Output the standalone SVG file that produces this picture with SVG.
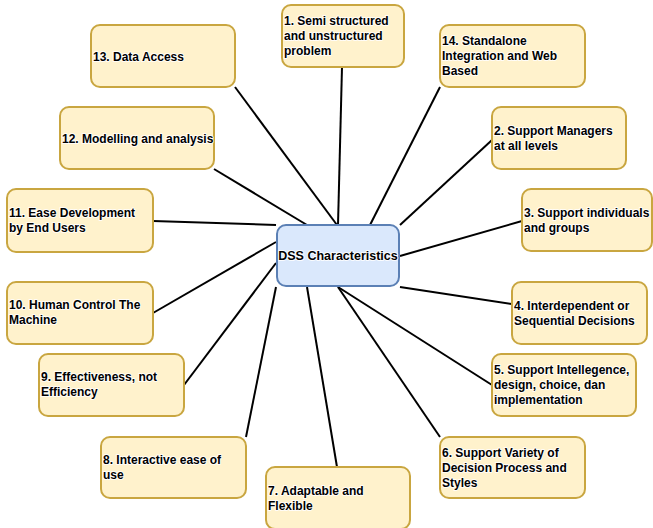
<svg xmlns="http://www.w3.org/2000/svg" width="653" height="528" viewBox="0 0 653 528">
<style>
.n{fill:#fff2cc;stroke:#c9a640;stroke-width:2}
.c{fill:#dae8fc;stroke:#5b80b5;stroke-width:2}
text{font-family:"Liberation Sans",Arial,sans-serif;font-weight:bold;font-size:12px;fill:#000;stroke:#fff;stroke-width:2;stroke-linejoin:round;paint-order:stroke;stroke-opacity:0.85}
.t{font-size:12.5px}
.e line{stroke:#000;stroke-width:2}
</style>
<rect width="653" height="528" fill="#fff"/>
<g class="e" id="connectors">
<line x1="235" y1="87" x2="337" y2="225"/>
<line x1="342" y1="67" x2="338" y2="225"/>
<line x1="440" y1="87" x2="370" y2="225"/>
<line x1="492" y1="140" x2="400" y2="225"/>
<line x1="522" y1="221" x2="400" y2="256"/>
<line x1="512" y1="304" x2="400" y2="287"/>
<line x1="492" y1="385" x2="338" y2="287"/>
<line x1="440" y1="437" x2="338" y2="287"/>
<line x1="337" y1="467" x2="307" y2="287"/>
<line x1="246" y1="437" x2="276" y2="287"/>
<line x1="184" y1="385" x2="276" y2="263"/>
<line x1="153" y1="313" x2="276" y2="242"/>
<line x1="153" y1="221" x2="276" y2="225"/>
<line x1="214" y1="169" x2="307" y2="225"/>
</g>
<g id="center"><rect class="c" x="277" y="225" width="122" height="61" rx="9"/><text class="t" x="338" y="260" text-anchor="middle">DSS Characteristics</text></g>
<g id="n1"><rect class="n" x="282" y="5" width="122" height="62" rx="9"/><text x="284" y="25">1. Semi structured</text><text x="284" y="40">and unstructured</text><text x="284" y="55">problem</text></g>
<g id="n14"><rect class="n" x="440" y="25" width="145" height="62" rx="9"/><text x="442" y="45">14. Standalone</text><text x="442" y="60">Integration and Web</text><text x="442" y="75">Based</text></g>
<g id="n2"><rect class="n" x="492" y="107" width="134" height="62" rx="9"/><text x="494" y="135">2. Support Managers</text><text x="494" y="150">at all levels</text></g>
<g id="n3"><rect class="n" x="522" y="189" width="130" height="62" rx="9"/><text x="524" y="217">3. Support individuals</text><text x="524" y="232">and groups</text></g>
<g id="n4"><rect class="n" x="512" y="282" width="135" height="62" rx="9"/><text x="514" y="310">4. Interdependent or</text><text x="514" y="325">Sequential Decisions</text></g>
<g id="n5"><rect class="n" x="492" y="354" width="144" height="62" rx="9"/><text x="494" y="374">5. Support Intellegence,</text><text x="494" y="389">design, choice, dan</text><text x="494" y="404">implementation</text></g>
<g id="n6"><rect class="n" x="440" y="437" width="145" height="61" rx="9"/><text x="442" y="457">6. Support Variety of</text><text x="442" y="472">Decision Process and</text><text x="442" y="487">Styles</text></g>
<g id="n7"><rect class="n" x="266" y="467" width="144" height="62" rx="9"/><text x="268" y="495">7. Adaptable and</text><text x="268" y="510">Flexible</text></g>
<g id="n8"><rect class="n" x="101" y="437" width="145" height="61" rx="9"/><text x="103" y="464">8. Interactive ease of</text><text x="103" y="479">use</text></g>
<g id="n9"><rect class="n" x="39" y="354" width="145" height="62" rx="9"/><text x="41" y="381">9. Effectiveness, not</text><text x="41" y="396">Efficiency</text></g>
<g id="n10"><rect class="n" x="7" y="282" width="146" height="62" rx="9"/><text x="9" y="309">10. Human Control The</text><text x="9" y="324">Machine</text></g>
<g id="n11"><rect class="n" x="7" y="189" width="146" height="63" rx="9"/><text x="9" y="216.5">11. Ease Development</text><text x="9" y="231.5">by End Users</text></g>
<g id="n12"><rect class="n" x="60" y="107" width="154" height="62" rx="9"/><text x="62" y="142.5">12. Modelling and analysis</text></g>
<g id="n13"><rect class="n" x="91" y="25" width="144" height="62" rx="9"/><text x="93" y="61">13. Data Access</text></g>
</svg>
